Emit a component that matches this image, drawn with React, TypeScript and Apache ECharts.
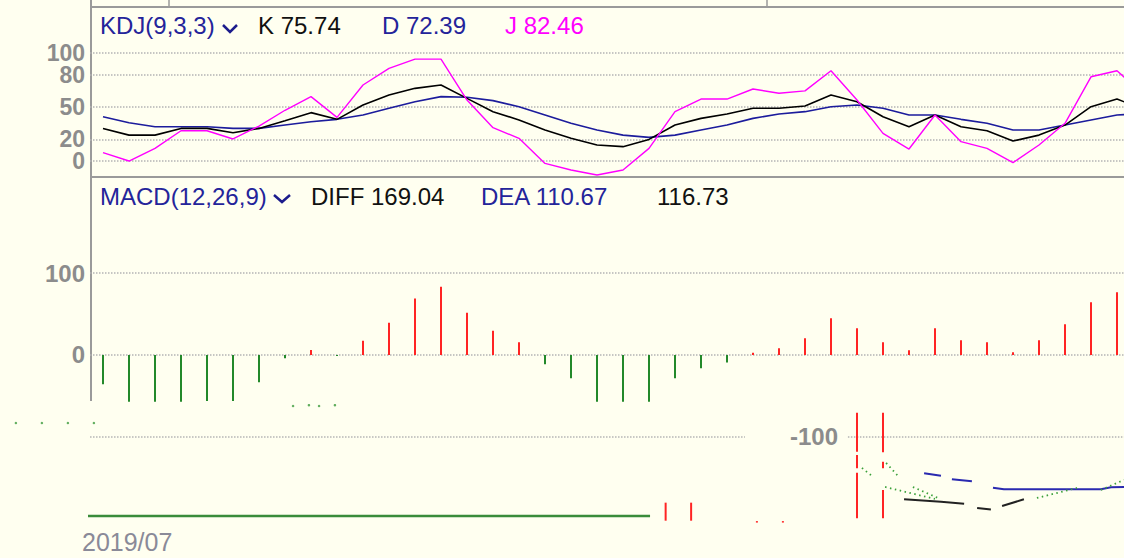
import React, { useEffect, useRef } from "react";
import * as echarts from "echarts";

// ---------- data ----------
const categories = Array.from({ length: 41 }, (_, i) => `D${i + 1}`);

const kValues = [
  30.2, 24, 24, 30.2, 30.2, 26.2, 30.2, 37.3, 44.8, 38.6, 51.9, 61.1,
  67.3, 70.4, 58, 45.7, 38, 28.7, 21, 14.8, 13.3, 20, 33.3, 39.5, 43.5, 48.8, 48.8,
  50.9, 61.1, 54.9, 41, 31.8, 42.6, 31.8, 28, 18.5, 24, 33.3, 50.3, 57.4, 48,
];
const dValues = [
  41, 35.5, 31.8, 31.8, 31.8, 30.2, 30.2, 33.3, 36.4, 38.6, 42.6, 48.8,
  54.9, 59.6, 59, 55.9, 50.3, 42.6, 34.9, 28.7, 24, 21.9, 24, 28.7, 33.3, 39.5, 43.5,
  45.7, 50.3, 51.9, 48.8, 42.6, 42.6, 38.6, 34.9, 28.7, 28.7, 33.3, 38, 42.6, 44,
];
const jValues = [
  7.7, 0, 11.7, 28, 28, 20.4, 32.4, 47, 59.6, 40.4, 70.4, 85.8,
  94.4, 94.4, 56.5, 30.9, 21, -2.2, -8.3, -13, -8.3, 11.7, 45.7, 57.4, 57.4, 66.7, 62.7,
  65, 83.6, 56.5, 25.6, 11.1, 42.6, 17.9, 11.7, -1.5, 14.8, 34.9, 78, 83.6, 62,
];
const macdValues = [
  -35.7, -57, -57, -57, -56, -56, -33.3, -4, 6, -1.2, 17.5, 39.4,
  69, 83.3, 51.6, 29.7, 15.4, -11.4, -28.5, -57, -57, -57, -28.5, -16.3, -9, 2.8, 8.1,
  20.3, 44.7, 32.5, 15.4, 5.7, 32.5, 17.9, 15.4, 3.3, 17.9, 37.4, 64.2, 76.4, 80,
];

const kdjTicksA = [0, 50, 100];
const kdjTicksB = [20, 80];
const macdTicks = [0, 100];

const kdjTitle = "KDJ(9,3,3)";
const kdjReadouts = ["K 75.74", "D 72.39", "J 82.46"];
const macdTitle = "MACD(12,26,9)";
const macdReadouts = ["DIFF 169.04", "DEA 110.67", "116.73"];
const glitchAxisLabel = "-100";
const glitchDateLabel = "2019/07";

// glitch fragments below the MACD pane, in (bar index, MACD value) units
const glitchGridA = [[-3.96, -100], [24.69, -100]];
const glitchGridB = [[28.65, -100], [40.5, -100]];
const glitchGreenBase = [[-3.96, -196.3], [21.04, -196.3]];
const glitchRedSegments = [
  [21.64, -180.1, -202.1],
  [22.62, -180.1, -202.1],
  [25.15, -202.6, -204.4],
  [26.15, -202.6, -204.4],
  [29.0, -70.4, -117.9],
  [29.0, -122, -138.2],
  [29.0, -143.5, -199.1],
  [30.0, -70.4, -118.7],
  [30.0, -130.1, -138.2],
  [30.0, -164.6, -199.1],
];
const glitchBlue = [
  [[31.58, -144.3], [32.23, -147.2]],
  [[32.65, -151.6], [33.42, -154.0]],
  [[34.23, -161.8], [34.65, -163.8], [38.38, -163.8], [38.77, -161.3], [39.5, -161.0]],
];
const glitchBlack = [
  [[30.81, -176.0], [32.23, -178.9], [33.12, -181.3]],
  [[33.62, -186.6], [34.15, -188.4]],
  [[34.58, -184.1], [35.42, -176.0]],
];
const glitchGreenDotted = [
  [[29.19, -137.8], [29.58, -147.6]],
  [[30.12, -131.7], [30.58, -147.6]],
  [[30.08, -161], [32.0, -175.6]],
  [[31.15, -161], [32.12, -174.4]],
  [[35.92, -174.4], [37.46, -162.2]],
  [[38.38, -164.6], [39.27, -152.4]],
];
const glitchGreenDots = [
  [-3.35, -82.9], [-2.35, -82.9], [-1.35, -82.9], [-0.35, -82.9],
  [7.31, -62.2], [7.92, -61.2], [8.31, -62.2], [8.92, -61.2],
];

// ---------- styles ----------
const BG = "#fffff0";
const NAVY = "#24249a";
const GRID_COLOR = "#b4b4b4";
const LABEL_GRAY = "#8c8c8c";
const RED = "#ff2424";
const GREEN = "#23892a";
const FONT = '"Liberation Sans", Arial, sans-serif';

export default function App() {
  const ref = useRef<HTMLDivElement>(null);

  useEffect(() => {
    if (!ref.current) return;
    const chart = echarts.init(ref.current, undefined, { renderer: "svg" });
    const band = 26;
    const gridWidth = band * categories.length;

    const dotted = { color: GRID_COLOR, width: 1.5, type: [1.5, 1.5] as any };
    const axisLabel = (ticks: number[], fontSize: number) => ({
      customValues: ticks,
      color: LABEL_GRAY,
      fontWeight: "bold" as const,
      fontSize,
      lineHeight: 20,
      fontFamily: FONT,
      margin: 5,
      hideOverlap: false,
      showMinLabel: true,
      showMaxLabel: true,
    });
    const valueAxis = (gridIndex: number, min: number, max: number, ticks: number[], fontSize: number) => ({
      gridIndex,
      type: "value",
      position: "left",
      offset: 0,
      min,
      max,
      axisLine: { show: false },
      axisTick: { show: false, customValues: ticks },
      axisLabel: axisLabel(ticks, fontSize),
      splitLine: { show: true, lineStyle: dotted },
    });

    const glitchLine = (data: number[][], color: string, width: number, type: any = "solid") => ({
      type: "line" as const,
      xAxisIndex: 2,
      yAxisIndex: 2,
      data,
      symbol: "none",
      clip: false,
      silent: true,
      lineStyle: { color, width, type },
      z: 1,
    });

    const text = (t: string, x: number, y: number, fill: string, extra: any = {}) => ({
      type: "text",
      x,
      y,
      silent: true,
      style: {
        text: t,
        fill,
        fontSize: 24,
        fontFamily: FONT,
        verticalAlign: "middle",
        align: "left",
        ...extra,
      },
    });

    const option: any = {
      animation: false,
      backgroundColor: BG,
      grid: [
        { left: 90, top: 8, width: gridWidth, height: 169 },
        { left: 90, top: 177, width: gridWidth, height: 381 },
      ],
      xAxis: [
        { gridIndex: 0, type: "category", data: categories, boundaryGap: true, show: false },
        { gridIndex: 1, type: "category", data: categories, boundaryGap: true, show: false },
        { gridIndex: 1, type: "value", min: -0.5, max: 40.5, show: false },
      ],
      yAxis: [
        valueAxis(0, -14.8, 141.7, kdjTicksA, 23),
        valueAxis(0, -14.8, 141.7, kdjTicksB, 23),
        valueAxis(1, -247.6, 217.1, macdTicks, 24),
      ],
      series: [
        {
          name: "D",
          type: "line",
          xAxisIndex: 0,
          yAxisIndex: 0,
          data: dValues,
          symbol: "none",
          lineStyle: { color: "#1c1c9c", width: 1.6 },
          z: 3,
        },
        {
          name: "K",
          type: "line",
          xAxisIndex: 0,
          yAxisIndex: 0,
          data: kValues,
          symbol: "none",
          lineStyle: { color: "#000000", width: 1.6 },
          z: 4,
        },
        {
          name: "J",
          type: "line",
          xAxisIndex: 0,
          yAxisIndex: 0,
          data: jValues,
          symbol: "none",
          lineStyle: { color: "#ff00ff", width: 1.4 },
          z: 5,
        },
        {
          name: "MACD",
          type: "bar",
          xAxisIndex: 1,
          yAxisIndex: 2,
          barWidth: 2,
          data: macdValues.map((v) => ({
            value: v,
            itemStyle: { color: v >= 0 ? RED : GREEN },
          })),
          z: 3,
        },
        glitchLine(glitchGridA, GRID_COLOR, 1.5, [1.5, 1.5]),
        glitchLine(glitchGridB, GRID_COLOR, 1.5, [1.5, 1.5]),
        glitchLine(glitchGreenBase, "#3a8c3a", 2.5),
        ...glitchBlue.map((d) => glitchLine(d, "#2a2ab0", 2)),
        ...glitchBlack.map((d) => glitchLine(d, "#222222", 2)),
        ...glitchGreenDotted.map((d) => glitchLine(d, "#3aa03a", 1.8, [1.5, 3.5])),
        {
          type: "scatter",
          xAxisIndex: 2,
          yAxisIndex: 2,
          data: glitchGreenDots,
          symbolSize: 2.5,
          clip: false,
          silent: true,
          itemStyle: { color: "#3a9a3a" },
        },
        {
          type: "custom",
          xAxisIndex: 2,
          yAxisIndex: 2,
          data: glitchRedSegments,
          encode: { x: 0, y: [1, 2] },
          silent: true,
          renderItem: (_params: any, api: any) => {
            const p0 = api.coord([api.value(0), api.value(1)]);
            const p1 = api.coord([api.value(0), api.value(2)]);
            return {
              type: "line",
              shape: { x1: p0[0], y1: p0[1], x2: p1[0], y2: p1[1] },
              style: { stroke: RED, lineWidth: 2 },
            };
          },
        },
      ],
      graphic: [
        // frame lines
        { type: "line", silent: true, shape: { x1: 91, y1: 0, x2: 91, y2: 401 }, style: { stroke: "#9a9a9a", lineWidth: 2 } },
        { type: "line", silent: true, shape: { x1: 91, y1: 7, x2: 1124, y2: 7 }, style: { stroke: "#9a9a9a", lineWidth: 2 } },
        { type: "line", silent: true, shape: { x1: 91, y1: 177, x2: 1124, y2: 177 }, style: { stroke: "#9a9a9a", lineWidth: 2 } },
        { type: "line", silent: true, shape: { x1: 169, y1: 0, x2: 169, y2: 6 }, style: { stroke: "#9a9a9a", lineWidth: 1.5 } },
        { type: "line", silent: true, shape: { x1: 767, y1: 0, x2: 767, y2: 6 }, style: { stroke: "#9a9a9a", lineWidth: 1.5 } },
        // KDJ header
        text(kdjTitle, 100, 25, NAVY),
        { type: "polyline", silent: true, shape: { points: [[223, 25], [230, 32], [237, 25]] }, style: { stroke: "#1c1c8c", lineWidth: 2.5, fill: "none" } },
        text(kdjReadouts[0], 258, 25, "#111111"),
        text(kdjReadouts[1], 382, 25, NAVY),
        text(kdjReadouts[2], 505, 25, "#ff00ff"),
        // MACD header
        text(macdTitle, 100, 196, NAVY),
        { type: "polyline", silent: true, shape: { points: [[274, 195], [282, 202], [290, 195]] }, style: { stroke: "#1c1c8c", lineWidth: 2.5, fill: "none" } },
        text(macdReadouts[0], 311, 196, "#111111"),
        text(macdReadouts[1], 481, 196, NAVY),
        text(macdReadouts[2], 657, 196, "#111111"),
        // glitch labels
        text(glitchAxisLabel, 838, 436, LABEL_GRAY, { align: "right", fontWeight: "bold" }),
        text(glitchDateLabel, 82, 542, "#8a8a98", { fontSize: 25 }),
      ],
    };

    chart.setOption(option);
    return () => chart.dispose();
  }, []);

  return (
    <div
      style={{
        position: "fixed",
        left: 0,
        top: 0,
        width: 1124,
        height: 558,
        overflow: "hidden",
        background: BG,
      }}
    >
      <div ref={ref} style={{ width: 1160, height: 558 }} />
    </div>
  );
}
